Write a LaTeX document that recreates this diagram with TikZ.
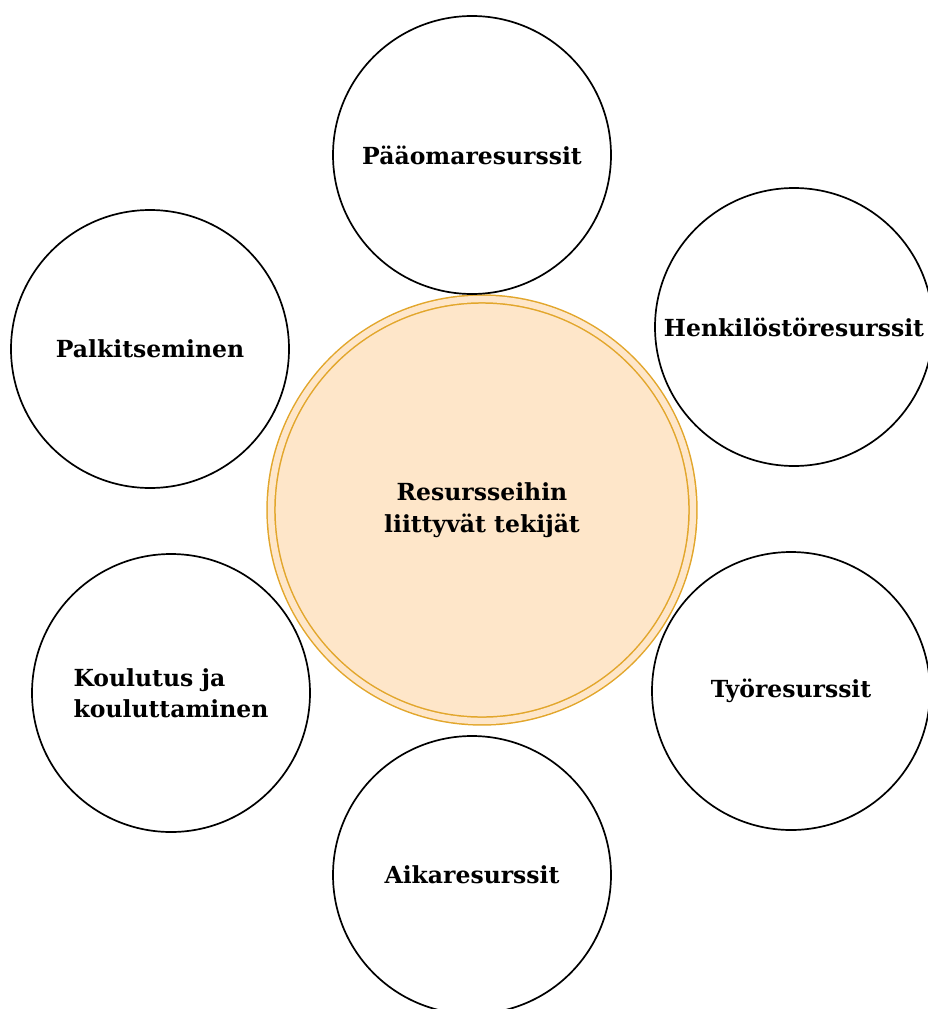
\documentclass[tikz,border=0pt]{standalone}
\usepackage{fontspec}
\setmainfont{DejaVu Serif}
\definecolor{ringorange}{HTML}{E2A62B}
\definecolor{corefill}{HTML}{FEE6C9}
\begin{document}
\begin{tikzpicture}[x=1pt,y=-1pt,
  labelfont/.style={font=\bfseries\fontsize{23.5}{31.5}\selectfont},
  resource/.style={circle, draw=black, line width=1.7pt, fill=white,
    minimum size=278pt, inner sep=0pt, labelfont, align=center},
  core/.style={circle, draw=ringorange, line width=1.5pt, fill=corefill,
    double=corefill, double distance=6.4pt, minimum size=422pt,
    inner sep=0pt, labelfont, align=center}]
\useasboundingbox (0,0) rectangle (928,1009);
% central factor
\node[core] (core) at (482,510) {Resursseihin\\liittyvät tekijät};
% surrounding resource circles
\node[resource] (paaoma) at (472,155) {Pääomaresurssit};
\node[resource] (henkilosto) at (794,327) {Henkilöstöresurssit};
\node[resource] (palkitseminen) at (150,349) {Palkitseminen};
\node[resource, align=left] (koulutus) at (171,693) {Koulutus ja\\kouluttaminen};
\node[resource] (tyo) at (791,691) {Työresurssit};
\node[resource] (aika) at (472,875) {Aikaresurssit};
\end{tikzpicture}
\end{document}
